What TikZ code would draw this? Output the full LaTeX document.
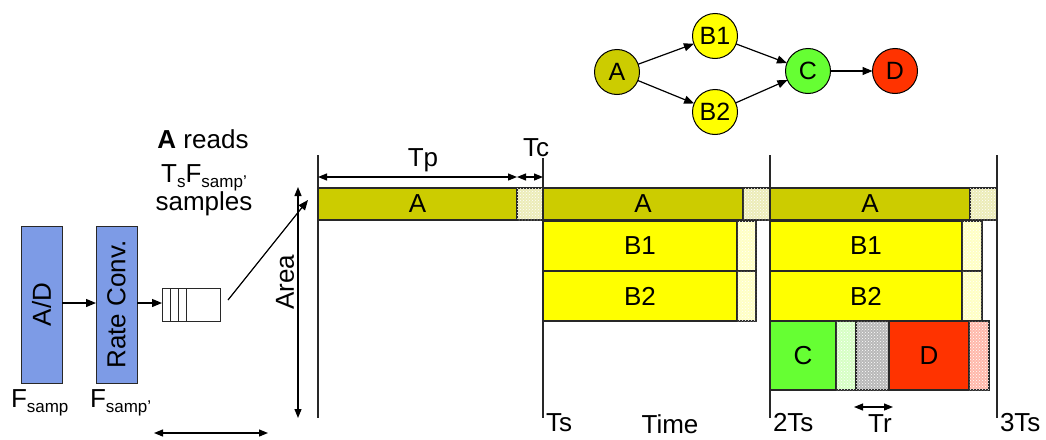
\documentclass[tikz,border=0pt]{standalone}
\usepackage{fontspec}
\setmainfont{Liberation Sans}
\usetikzlibrary{arrows.meta,patterns}
\definecolor{colA}{RGB}{204,204,0}
\definecolor{colB}{RGB}{255,255,0}
\definecolor{colC}{RGB}{102,255,51}
\definecolor{colD}{RGB}{255,51,0}
\definecolor{hatA}{RGB}{236,236,184}
\definecolor{hatB}{RGB}{255,255,196}
\definecolor{hatC}{RGB}{214,255,196}
\definecolor{hatG}{RGB}{184,184,184}
\definecolor{hatD}{RGB}{255,184,170}
\definecolor{blk}{RGB}{125,155,230}
\definecolor{edge}{RGB}{40,40,40}
\newcommand{\sub}[1]{\raisebox{-5pt}{\fontsize{17}{17}\selectfont #1}}
\begin{document}
\begin{tikzpicture}[x=1pt,y=-1pt,
  every node/.style={font=\fontsize{26}{30}\selectfont, inner sep=0pt, outer sep=0pt},
  bar/.style={draw=edge, line width=1.1pt, anchor=north west},
  hat/.style={bar, postaction={pattern=crosshatch dots, pattern color=white}},
  tip/.style={-{Triangle[length=10pt,width=8pt]}, line width=1.2pt},
  dbl/.style={{Triangle[length=9pt,width=7pt]}-{Triangle[length=9pt,width=7pt]}, line width=1.2pt},
  vline/.style={line width=1.3pt, draw=edge},
  circ/.style={circle, draw=black, line width=1pt, minimum size=45pt, font=\fontsize{25}{28}\selectfont},
  lbl/.style={anchor=base west},
  proc/.style={draw=edge, fill=blk, line width=1pt, minimum width=41pt, minimum height=157pt, anchor=north west}
]
\useasboundingbox (0,0) rectangle (1046,439);

% ---- task graph ----
\node[circ, fill=colA] (gA) at (617,72) {A};
\node[circ, fill=colB] (gB1) at (715,36) {B1};
\node[circ, fill=colB] (gB2) at (715,112) {B2};
\node[circ, fill=colC] (gC) at (808,71) {C};
\node[circ, fill=colD] (gD) at (895,71) {D};
\draw[tip] (gA) -- (gB1);
\draw[tip] (gA) -- (gB2);
\draw[tip] (gB1) -- (gC);
\draw[tip] (gB2) -- (gC);
\draw[tip] (gC) -- (gD);

% ---- left chain ----
\node[proc] (ad) at (21,226) {};
\node[rotate=90] at (ad.center) {A/D};
\node[proc] (rc) at (96,226) {};
\node[rotate=90] at (rc.center) {Rate Conv.};
\node[draw=edge, fill=white, line width=1pt, minimum width=58pt, minimum height=33pt, anchor=north west] (q) at (162,288) {};
\foreach \xx in {170,178,186} \draw[line width=1pt, draw=edge] (\xx,288) -- (\xx,321);
\draw[tip] (ad.east |- 0,303) -- (rc.west |- 0,303);
\draw[tip] (rc.east |- 0,303) -- (q.west |- 0,303);
\node[lbl] (fs) at (11,407) {F\sub{samp}};
\node[lbl] (fs2) at (90,407) {F\sub{samp’}};
\node[anchor=base] (r1) at (203,148) {\textbf{A} reads};
\node[anchor=base] (r2) at (204,182) {T\sub{s}F\sub{samp’}};
\node[anchor=base] (r3) at (204,210) {samples};
\coordinate (qa) at (228,300);
\coordinate (qb) at (308,200);
\draw[tip] (qa) -- (qb);
\coordinate (ar1) at (298,187);
\coordinate (ar2) at (298,418);
\draw[dbl] (ar1) -- (ar2);
\node[rotate=90] (area) at (285,282) {Area};
\coordinate (bw1) at (154,433);
\coordinate (bw2) at (268,433);
\draw[dbl] (bw1) -- (bw2);

% ---- bars ----
\node[bar, fill=colA, minimum width=199pt, minimum height=32pt] (a1) at (318,188) {A};
\node[hat, fill=hatA, minimum width=26pt, minimum height=32pt] (a1h) at (517,188) {};
\node[bar, fill=colA, minimum width=200pt, minimum height=32pt] (a2) at (543,188) {A};
\node[hat, fill=hatA, minimum width=27pt, minimum height=32pt] (a2h) at (743,188) {};
\node[bar, fill=colA, minimum width=200pt, minimum height=32pt] (a3) at (770,188) {A};
\node[hat, fill=hatA, minimum width=27pt, minimum height=32pt] (a3h) at (970,188) {};

\node[bar, fill=colB, minimum width=194pt, minimum height=50pt] (b11) at (543,221) {B1};
\node[hat, fill=hatB, minimum width=19pt, minimum height=50pt] (b11h) at (737,221) {};
\node[bar, fill=colB, minimum width=194pt, minimum height=50pt] (b21) at (543,271) {B2};
\node[hat, fill=hatB, minimum width=19pt, minimum height=50pt] (b21h) at (737,271) {};
\node[bar, fill=colB, minimum width=192pt, minimum height=50pt] (b12) at (770,221) {B1};
\node[hat, fill=hatB, minimum width=20pt, minimum height=50pt] (b12h) at (962,221) {};
\node[bar, fill=colB, minimum width=192pt, minimum height=50pt] (b22) at (770,271) {B2};
\node[hat, fill=hatB, minimum width=20pt, minimum height=50pt] (b22h) at (962,271) {};

\node[bar, fill=colC, minimum width=66pt, minimum height=69pt] (c) at (770,321) {C};
\node[hat, fill=hatC, minimum width=20pt, minimum height=69pt] (ch) at (836,321) {};
\node[hat, fill=hatG, minimum width=33pt, minimum height=69pt] (gr) at (856,321) {};
\node[bar, fill=colD, minimum width=80pt, minimum height=69pt] (d) at (889,321) {D};
\node[hat, fill=hatD, minimum width=20pt, minimum height=69pt] (dh) at (969,321) {};

% ---- time lines ----
\coordinate (t0a) at (318,155); \coordinate (t0b) at (318,418);
\coordinate (t1a) at (543,158); \coordinate (t1b) at (543,418);
\coordinate (t2a) at (770,155); \coordinate (t2b) at (770,418);
\coordinate (t3a) at (997,155); \coordinate (t3b) at (997,418);
\draw[vline] (t0a) -- (t0b);
\draw[vline] (t1a) -- (t1b);
\draw[vline] (t2a) -- (t2b);
\draw[vline] (t3a) -- (t3b);

% ---- dimensions ----
\coordinate (p1) at (318,177); \coordinate (p2) at (517,177); \coordinate (p3) at (543,177);
\draw[dbl] (p1) -- (p2);
\draw[dbl] (p2) -- (p3);
\node[anchor=base] (tp) at (423,166) {Tp};
\node[lbl] (tc) at (523,156) {Tc};
\coordinate (r1a) at (854,407); \coordinate (r1b) at (893,407);
\draw[dbl] (r1a) -- (r1b);
\node[anchor=base] (tr) at (880,432) {Tr};
\node[lbl] (ts1) at (546,431) {Ts};
\node[anchor=base] (time) at (670,433) {Time};
\node[lbl] (ts2) at (773,431) {2Ts};
\node[lbl] (ts3) at (1000,431) {3Ts};
\end{tikzpicture}
\end{document}
